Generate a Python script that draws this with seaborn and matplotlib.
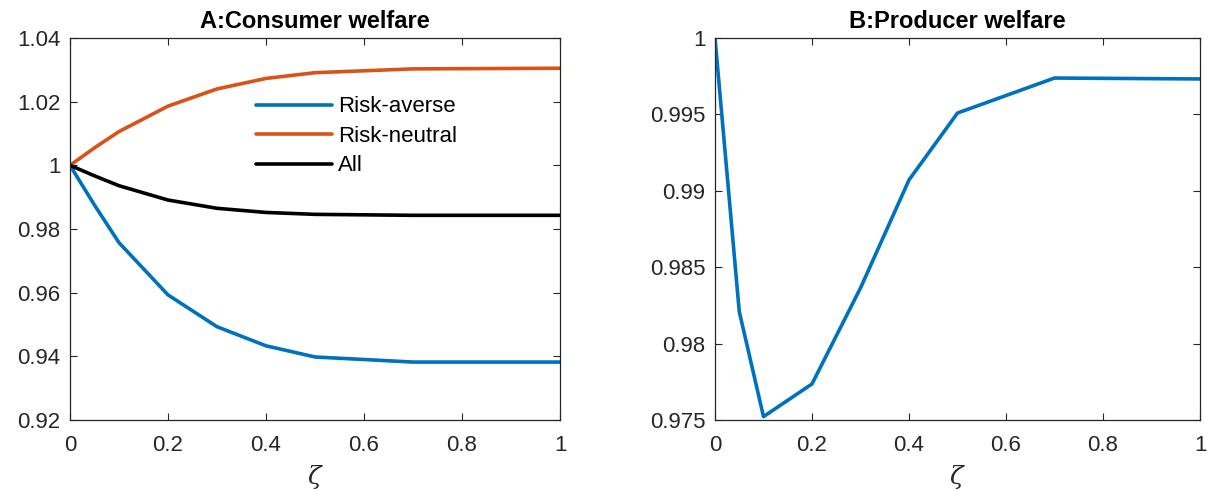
import numpy as np
import pandas as pd
import matplotlib
matplotlib.use("Agg")
import matplotlib.pyplot as plt
import seaborn as sns

# Share of risk-averse agents (zeta)
zeta = [0, 0.05, 0.1, 0.2, 0.3, 0.4, 0.5, 0.7, 1.0]

# Panel A: consumer welfare relative to zeta = 0
risk_averse = [1.0, 0.9875, 0.9757, 0.9593, 0.9493, 0.9433, 0.9398, 0.9382, 0.9382]
risk_neutral = [1.0, 1.0055, 1.0106, 1.0186, 1.0240, 1.0273, 1.0291, 1.0303, 1.0305]
all_consumers = [1.0, 0.9967, 0.9936, 0.9891, 0.9865, 0.9852, 0.9846, 0.9843, 0.9843]

# Panel B: producer welfare relative to zeta = 0
producer = [1.0, 0.9821, 0.97522, 0.97736, 0.98364, 0.99071, 0.99509, 0.99738, 0.99732]

series_names = ["Risk-averse", "Risk-neutral", "All"]
series_colors = ["#0072BD", "#D95319", "#000000"]

left_yticks = [0.92, 0.94, 0.96, 0.98, 1.0, 1.02, 1.04]
right_yticks = [0.975, 0.98, 0.985, 0.99, 0.995, 1.0]
xticks = [0, 0.2, 0.4, 0.6, 0.8, 1.0]

sns.set_style("ticks")
plt.rcParams["font.family"] = ["Liberation Sans", "DejaVu Sans"]
plt.rcParams["mathtext.fontset"] = "dejavuserif"

consumer_df = pd.DataFrame({
    "zeta": zeta * 3,
    "welfare": risk_averse + risk_neutral + all_consumers,
    "group": sum([[n] * len(zeta) for n in series_names], []),
})
producer_df = pd.DataFrame({"zeta": zeta, "welfare": producer})

fig = plt.figure(figsize=(12.08, 4.91), dpi=100)
axA = fig.add_axes([70 / 1208, 71 / 491, 490 / 1208, 382 / 491])
axB = fig.add_axes([715 / 1208, 71 / 491, 485 / 1208, 382 / 491])


def fmt(v):
    return f"{v:g}"


def style_axes(ax, yticks, ylim):
    ax.set_xlim(0, 1)
    ax.set_ylim(*ylim)
    ax.set_xticks(xticks)
    ax.set_xticklabels([fmt(t) for t in xticks])
    ax.set_yticks(yticks)
    ax.set_yticklabels([fmt(t) for t in yticks])
    ax.tick_params(direction="in", length=5, width=0.8, colors="#262626",
                   labelsize=16, top=True, right=True)
    ax.tick_params(axis="x", pad=11)
    ax.tick_params(axis="y", pad=7)
    for sp in ax.spines.values():
        sp.set_visible(True)
        sp.set_color("#262626")
        sp.set_linewidth(0.9)
    ax.set_xlabel(r"$\zeta$", fontsize=18, color="#262626", labelpad=5)
    ax.set_ylabel("")


sns.lineplot(data=consumer_df, x="zeta", y="welfare", hue="group",
             hue_order=series_names, palette=series_colors, linewidth=2.6,
             ax=axA, legend=True)
style_axes(axA, left_yticks, (0.92, 1.04))
axA.set_title("A:Consumer welfare", fontsize=17, fontweight="bold",
              color="black", pad=7)
leg = axA.legend(loc="upper left", bbox_to_anchor=(0.38, 0.847), frameon=False,
                 fontsize=16, handlelength=3.4, handletextpad=0.3,
                 labelspacing=0.38, borderpad=0, borderaxespad=0)
for line in leg.get_lines():
    line.set_linewidth(2.6)
for txt in leg.get_texts():
    txt.set_color("black")

sns.lineplot(data=producer_df, x="zeta", y="welfare", color="#0072BD",
             linewidth=2.6, ax=axB)
style_axes(axB, right_yticks, (0.975, 1.0))
axB.set_title("B:Producer welfare", fontsize=17, fontweight="bold",
              color="black", pad=7)

fig.savefig("out.png", dpi=100)
